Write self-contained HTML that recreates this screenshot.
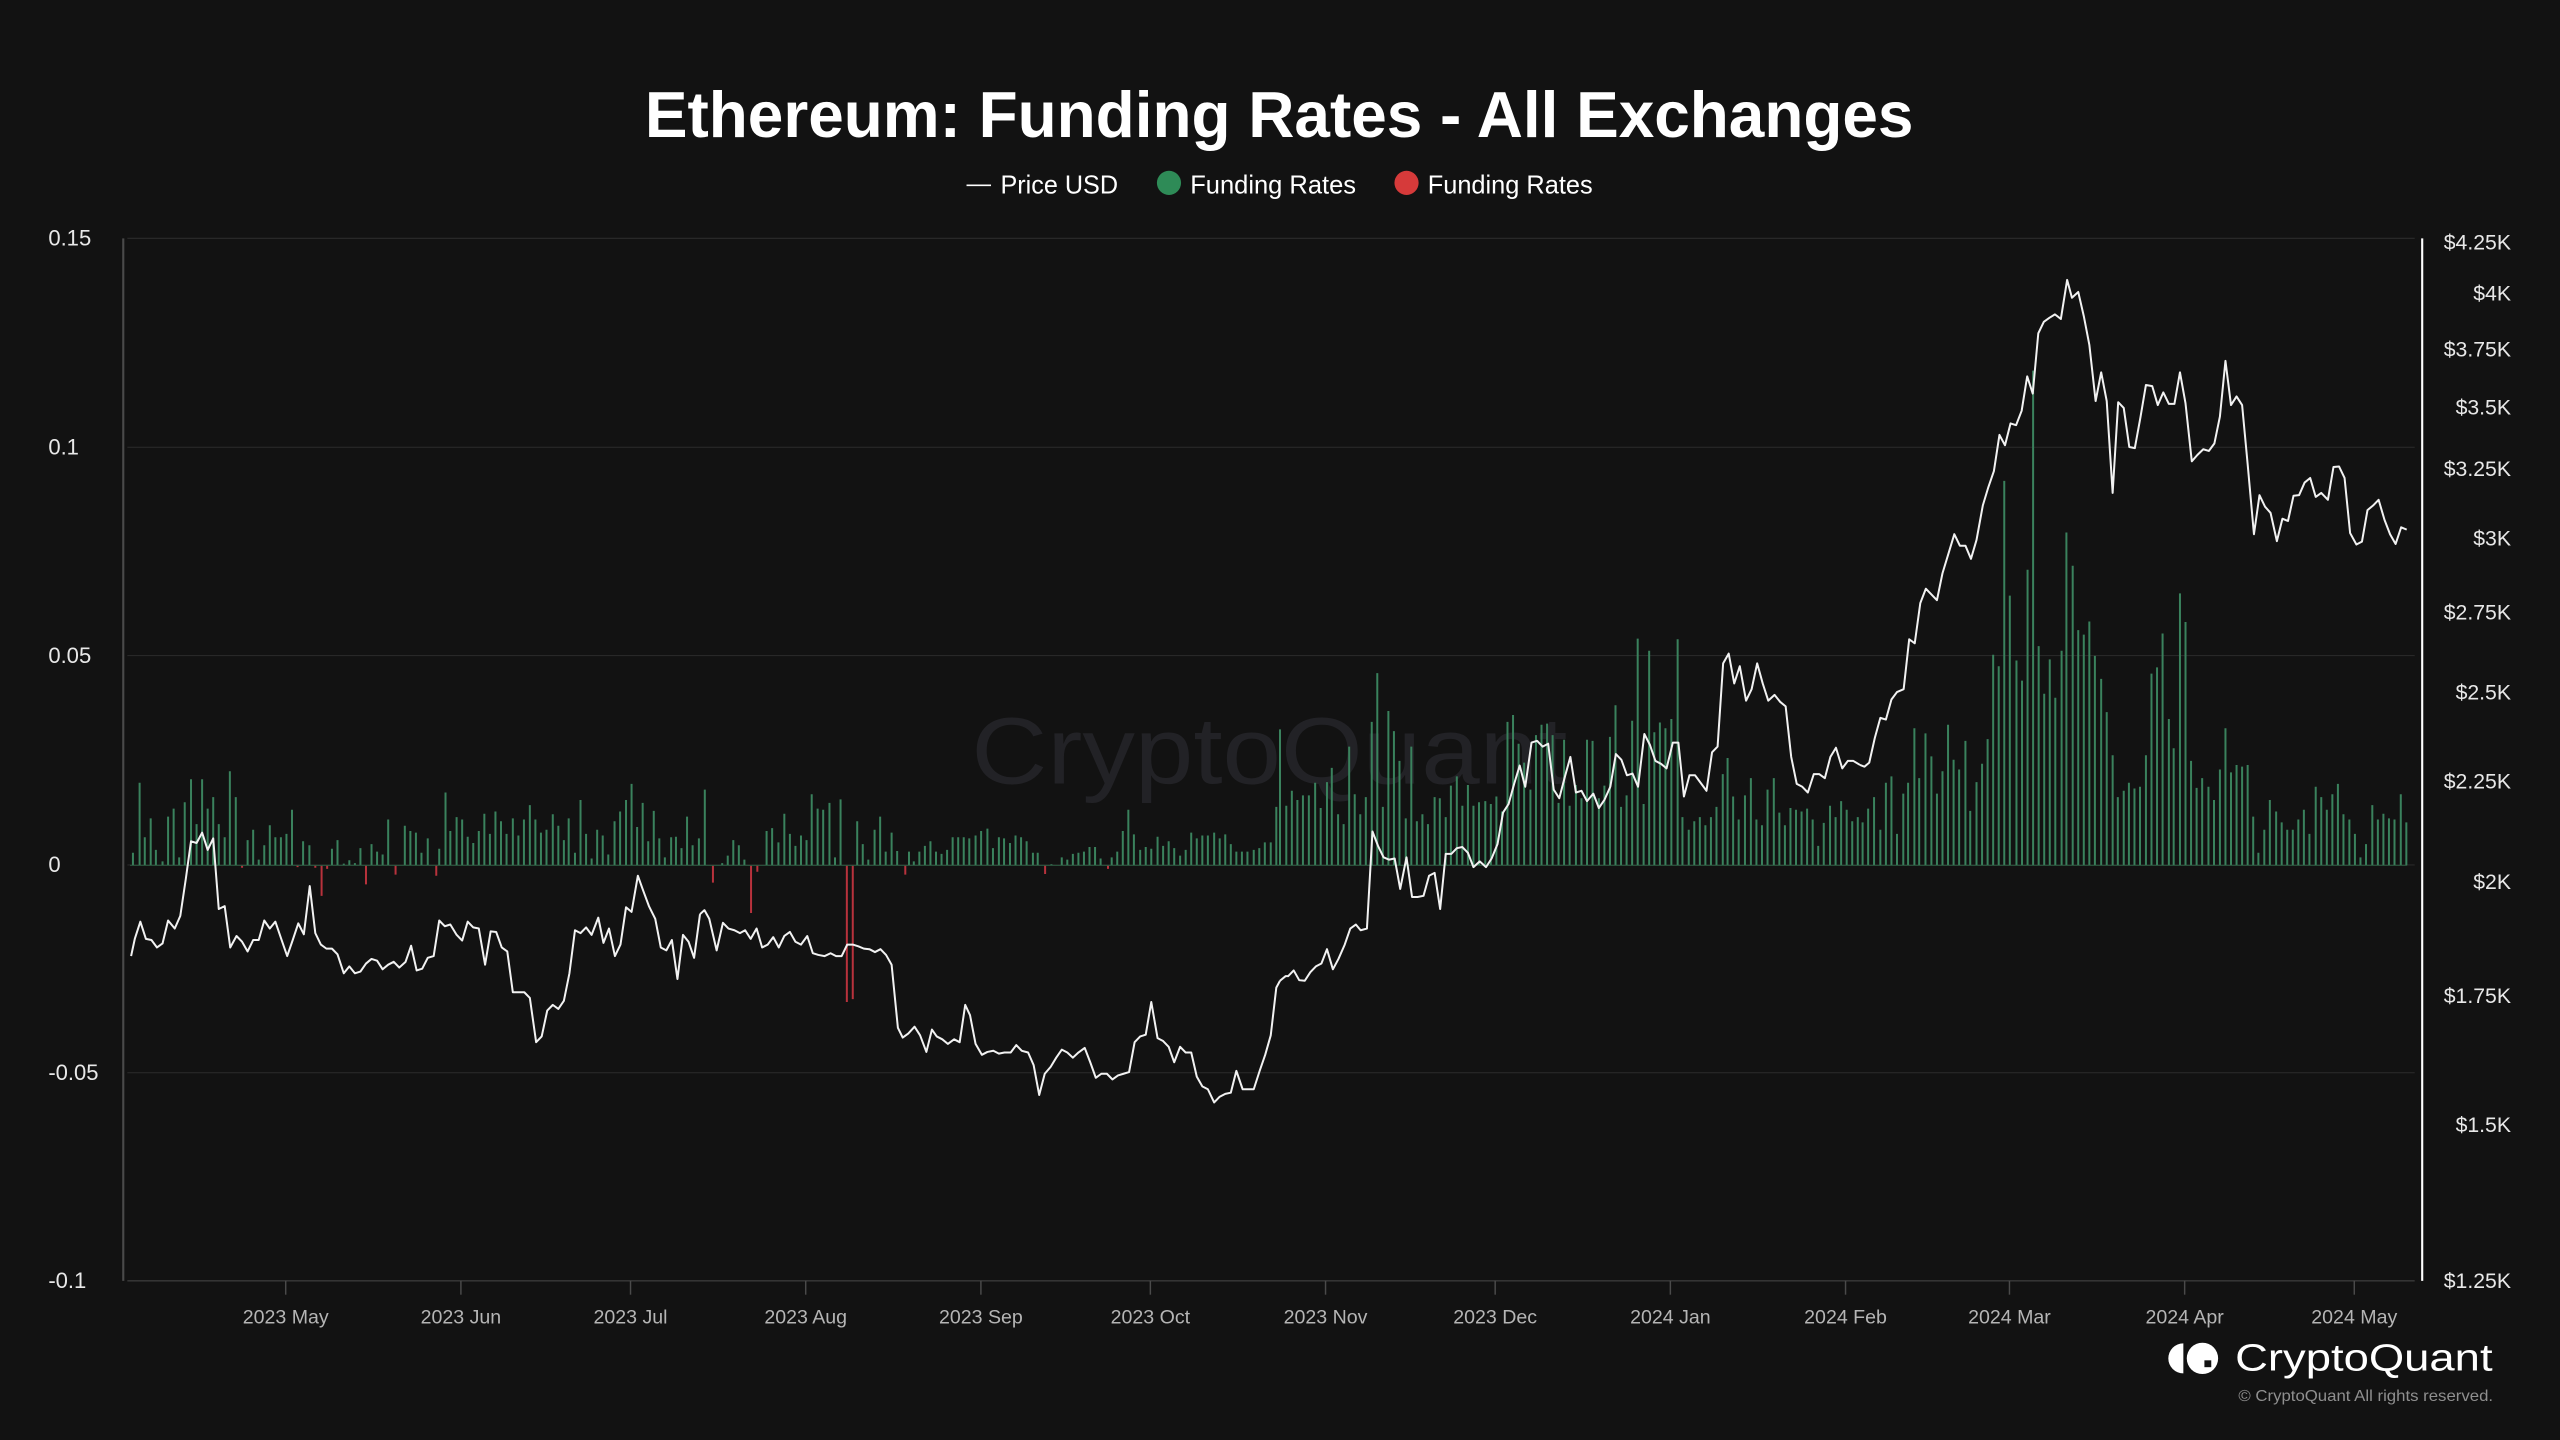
<!DOCTYPE html>
<html><head><meta charset="utf-8"><style>
html,body{margin:0;padding:0;background:#121212;overflow:hidden}
svg{display:block}
text{font-family:"Liberation Sans",Arial,sans-serif}
</style></head><body>
<svg width="2560" height="1440" xmlns="http://www.w3.org/2000/svg">
<rect width="2560" height="1440" fill="#121212"/>
<g transform="scale(1.63265)">
  <g stroke="#282828" stroke-width="0.7">
    <line x1="78" y1="146" x2="1479" y2="146"/>
    <line x1="78" y1="274" x2="1479" y2="274"/>
    <line x1="78" y1="401.5" x2="1479" y2="401.5"/>
    <line x1="78" y1="529.8" x2="1479" y2="529.8"/>
    <line x1="78" y1="657" x2="1479" y2="657"/>
  </g>
  <line x1="78" y1="784.5" x2="1479" y2="784.5" stroke="#3a3a3a" stroke-width="0.9"/>
  <text x="595" y="480" font-size="58" fill="#222226" textLength="365" lengthAdjust="spacingAndGlyphs">CryptoQuant</text>
</g>

<g transform="translate(120,230) scale(0.369898,0.573980)" fill="none">
<path vector-effect="non-scaling-stroke" stroke="#3a825d" stroke-width="2" d="M35 1107V1085M53 1107V963M67 1107V1058M83 1107V1025M97 1107V1080M115 1107V1100M130 1107V1022M145 1107V1008M160 1107V1093M175 1107V997M192 1107V957M207 1107V1035M222 1107V957M237 1107V1008M252 1107V988M267 1107V1035M283 1107V1058M297 1107V943M313 1107V988M345 1107V1063M360 1107V1045M375 1107V1097M390 1107V1072M405 1107V1037M420 1107V1058M435 1107V1058M450 1107V1052M465 1107V1010M495 1107V1065M512 1107V1072M573 1107V1078M588 1107V1063M605 1107V1104M620 1107V1098M635 1107V1103M650 1107V1077M680 1107V1070M695 1107V1083M710 1107V1088M725 1107V1027M770 1107V1038M785 1107V1047M800 1107V1050M815 1107V1085M832 1107V1060M863 1107V1078M880 1107V980M893 1107V1047M910 1107V1023M925 1107V1027M940 1107V1057M955 1107V1068M970 1107V1047M985 1107V1017M1000 1107V1052M1015 1107V1013M1030 1107V1030M1045 1107V1052M1062 1107V1025M1077 1107V1055M1092 1107V1027M1108 1107V1002M1123 1107V1027M1138 1107V1050M1153 1107V1045M1170 1107V1018M1185 1107V1038M1200 1107V1063M1213 1107V1025M1230 1107V1085M1245 1107V993M1260 1107V1052M1275 1107V1095M1290 1107V1045M1305 1107V1055M1320 1107V1088M1337 1107V1030M1352 1107V1013M1368 1107V993M1383 1107V965M1398 1107V1040M1413 1107V998M1428 1107V1065M1443 1107V1012M1458 1107V1060M1473 1107V1093M1490 1107V1058M1503 1107V1057M1518 1107V1077M1533 1107V1022M1548 1107V1072M1565 1107V1060"/>
<path vector-effect="non-scaling-stroke" stroke="#b8323c" stroke-width="2" d="M330 1107V1111M480 1107V1110M528 1107V1111M545 1107V1160M560 1107V1113M665 1107V1140M745 1107V1123M855 1107V1125"/>
</g>
<g transform="translate(700,230) scale(0.369898,0.573980)" fill="none">
<path vector-effect="non-scaling-stroke" stroke="#3a825d" stroke-width="2" d="M13 1107V975M60 1107V1103M75 1107V1090M90 1107V1063M105 1107V1072M120 1107V1097M180 1107V1047M195 1107V1042M212 1107V1067M228 1107V1017M243 1107V1052M258 1107V1073M273 1107V1055M288 1107V1063M302 1107V983M318 1107V1008M333 1107V1010M350 1107V998M365 1107V1093M380 1107V992M425 1107V1030M440 1107V1070M455 1107V1097M472 1107V1045M487 1107V1022M502 1107V1083M518 1107V1050M533 1107V1082M565 1107V1083M578 1107V1100M593 1107V1083M608 1107V1073M623 1107V1065M638 1107V1083M653 1107V1087M668 1107V1080M683 1107V1058M698 1107V1058M713 1107V1058M728 1107V1060M745 1107V1055M760 1107V1047M777 1107V1043M792 1107V1077M808 1107V1058M822 1107V1060M838 1107V1068M853 1107V1055M868 1107V1058M883 1107V1065M900 1107V1085M913 1107V1085M950 1107V1105M978 1107V1093M993 1107V1097M1008 1107V1087M1023 1107V1085M1038 1107V1083M1053 1107V1075M1068 1107V1075M1083 1107V1095M1113 1107V1093M1128 1107V1083M1143 1107V1047M1158 1107V1010M1173 1107V1053M1190 1107V1080M1205 1107V1075M1220 1107V1078M1237 1107V1057M1252 1107V1073M1267 1107V1065M1282 1107V1077M1298 1107V1090M1313 1107V1080M1328 1107V1050M1343 1107V1060M1358 1107V1055M1373 1107V1055M1390 1107V1050M1405 1107V1060M1420 1107V1053M1435 1107V1070M1450 1107V1083M1465 1107V1083M1480 1107V1083M1497 1107V1080M1512 1107V1077M1527 1107V1067M1543 1107V1067M1558 1107V1005"/>
<path vector-effect="non-scaling-stroke" stroke="#b8323c" stroke-width="2" d="M35 1107V1137M138 1107V1190M155 1107V1118M397 1107V1345M413 1107V1340M555 1107V1123M933 1107V1122M1103 1107V1113"/>
</g>
<g transform="translate(1280,230) scale(0.369898,0.573980)" fill="none">
<path vector-effect="non-scaling-stroke" stroke="#3a825d" stroke-width="2" d="M0 1107V870M17 1107V1003M32 1107V977M47 1107V993M62 1107V985M78 1107V985M95 1107V963M110 1107V1007M127 1107V962M140 1107V937M157 1107V1018M172 1107V1035M187 1107V900M202 1107V983M217 1107V1018M232 1107V988M248 1107V857M263 1107V772M278 1107V1005M293 1107V838M308 1107V873M323 1107V925M340 1107V1025M355 1107V900M370 1107V1030M385 1107V1018M400 1107V1035M418 1107V988M432 1107V990M448 1107V1023M462 1107V968M478 1107V952M493 1107V1003M508 1107V967M523 1107V1003M538 1107V997M555 1107V995M570 1107V1000M585 1107V987M600 1107V1013M615 1107V857M630 1107V845M645 1107V895M660 1107V928M677 1107V975M692 1107V880M707 1107V862M722 1107V860M737 1107V880M753 1107V998M768 1107V888M783 1107V1003M800 1107V967M815 1107V990M830 1107V888M845 1107V890M862 1107V990M877 1107V968M892 1107V883M907 1107V828M922 1107V1005M937 1107V985M952 1107V855M967 1107V712M983 1107V1000M998 1107V733M1012 1107V875M1027 1107V858M1042 1107V868M1058 1107V852M1075 1107V713M1088 1107V1023M1105 1107V1045M1120 1107V1030M1135 1107V1023M1150 1107V1037M1165 1107V1023M1180 1107V1005M1197 1107V948M1210 1107V920M1225 1107V987M1240 1107V1027M1257 1107V985M1273 1107V955M1288 1107V1027M1303 1107V1037M1318 1107V975M1335 1107V955M1350 1107V1015M1365 1107V1037M1380 1107V1007M1395 1107V1010M1410 1107V1013M1425 1107V1008M1440 1107V1027M1455 1107V1073M1470 1107V1033M1487 1107V1003M1502 1107V1023M1517 1107V995M1532 1107V1010M1547 1107V1030M1562 1107V1023"/>
</g>
<g transform="translate(1860,230) scale(0.369898,0.573980)" fill="none">
<path vector-effect="non-scaling-stroke" stroke="#3a825d" stroke-width="2" d="M7 1107V1032M22 1107V1008M38 1107V988M55 1107V1045M70 1107V963M85 1107V952M100 1107V1052M117 1107V982M130 1107V963M147 1107V868M160 1107V955M177 1107V877M193 1107V917M208 1107V982M223 1107V943M238 1107V862M253 1107V923M268 1107V940M285 1107V890M298 1107V1012M315 1107V962M330 1107V930M345 1107V887M360 1107V740M375 1107V760M390 1107V437M405 1107V637M423 1107V750M438 1107V785M453 1107V592M468 1107V245M483 1107V725M498 1107V808M513 1107V748M528 1107V815M545 1107V733M558 1107V527M575 1107V585M590 1107V697M605 1107V705M620 1107V682M635 1107V742M652 1107V782M667 1107V840M683 1107V915M697 1107V988M713 1107V977M727 1107V963M742 1107V973M757 1107V970M773 1107V915M788 1107V773M803 1107V762M818 1107V703M835 1107V852M848 1107V903M865 1107V633M880 1107V683M895 1107V925M910 1107V972M925 1107V955M942 1107V970M957 1107V993M973 1107V940M988 1107V868M1003 1107V945M1018 1107V932M1033 1107V935M1048 1107V932M1063 1107V1022M1077 1107V1085M1093 1107V1045M1108 1107V993M1125 1107V1013M1140 1107V1032M1155 1107V1045M1170 1107V1045M1185 1107V1027M1200 1107V1010M1215 1107V1052M1232 1107V970M1247 1107V988M1262 1107V1010M1277 1107V983M1292 1107V965M1307 1107V1018M1323 1107V1027M1338 1107V1052M1353 1107V1093M1368 1107V1070M1385 1107V1002M1400 1107V1027M1415 1107V1017M1430 1107V1025M1445 1107V1027M1462 1107V983M1477 1107V1032"/>
</g>

<line x1="130" y1="865.4" x2="2407" y2="865.4" stroke="#2d5a41" stroke-width="1"/>

<g fill="none" stroke="#f2f2f2" stroke-width="2" stroke-linejoin="round">
<polyline vector-effect="non-scaling-stroke" transform="translate(120,230) scale(0.369898,0.573980)" points="30,1265 40,1235 55,1205 70,1235 85,1237 100,1250 115,1243 130,1203 148,1217 163,1195 178,1130 192,1065 207,1068 222,1050 237,1080 252,1060 267,1183 283,1178 298,1250 315,1230 330,1240 345,1257 360,1237 375,1237 390,1203 405,1217 420,1205 437,1237 452,1265 467,1237 482,1208 497,1227 513,1143 528,1225 543,1245 558,1252 573,1252 588,1262 605,1295 620,1283 635,1295 650,1292 665,1278 680,1270 695,1273 710,1288 725,1280 740,1275 755,1285 772,1275 787,1247 802,1290 817,1287 832,1268 848,1265 863,1203 878,1213 893,1210 910,1228 925,1238 940,1205 955,1215 970,1217 987,1280 1002,1222 1017,1223 1032,1250 1047,1257 1062,1328 1077,1328 1093,1328 1108,1338 1125,1415 1140,1405 1155,1360 1170,1350 1185,1357 1200,1343 1215,1295 1230,1220 1245,1225 1260,1215 1275,1228 1293,1198 1307,1242 1322,1217 1338,1265 1353,1245 1368,1180 1383,1188 1400,1125 1415,1152 1430,1178 1447,1200 1462,1250 1477,1255 1492,1237 1507,1305 1522,1228 1537,1240 1552,1268 1568,1192"/>
<polyline vector-effect="non-scaling-stroke" transform="translate(700,230) scale(0.369898,0.573980)" points="0,1192 12,1185 25,1200 45,1255 62,1207 77,1217 93,1220 108,1225 122,1220 137,1235 153,1217 168,1250 183,1245 198,1232 213,1250 228,1230 243,1223 258,1240 273,1245 290,1230 305,1260 320,1263 337,1265 353,1260 368,1265 383,1265 398,1245 413,1245 428,1248 443,1252 458,1253 473,1258 488,1253 503,1263 518,1280 535,1390 548,1407 563,1400 580,1388 595,1403 612,1432 627,1393 640,1405 655,1410 670,1418 687,1410 702,1415 717,1350 730,1368 745,1418 762,1437 777,1432 793,1430 808,1435 823,1433 840,1433 855,1420 870,1430 887,1433 902,1455 917,1507 932,1470 948,1458 963,1442 978,1428 993,1433 1008,1442 1023,1433 1040,1425 1055,1450 1070,1477 1085,1470 1100,1470 1115,1480 1130,1473 1145,1470 1160,1467 1175,1415 1190,1405 1205,1402 1220,1345 1237,1408 1252,1413 1267,1423 1282,1450 1298,1423 1313,1433 1328,1433 1343,1475 1358,1492 1373,1497 1390,1520 1405,1510 1420,1505 1435,1503 1450,1465 1467,1497 1482,1497 1497,1497 1513,1465 1528,1437 1543,1403 1558,1320 1568,1308"/>
<polyline vector-effect="non-scaling-stroke" transform="translate(1280,230) scale(0.369898,0.573980)" points="0,1308 15,1300 22,1300 37,1290 52,1307 67,1308 82,1293 97,1283 112,1278 127,1253 143,1288 158,1270 175,1245 190,1217 205,1210 218,1220 235,1217 250,1048 265,1073 280,1093 295,1097 310,1095 325,1148 342,1093 357,1162 372,1162 388,1160 403,1125 418,1120 433,1183 448,1087 463,1087 478,1077 493,1075 508,1085 523,1110 540,1100 557,1110 572,1095 588,1070 603,1015 618,1000 633,965 648,933 663,970 680,893 695,890 710,900 725,895 740,975 755,990 770,953 785,918 800,980 815,977 830,995 847,982 862,1007 877,993 893,970 908,913 923,923 938,950 953,947 968,970 985,878 1000,897 1015,925 1030,930 1045,938 1062,893 1077,893 1092,987 1107,950 1122,950 1137,963 1153,977 1168,910 1183,900 1198,755 1213,738 1228,790 1243,760 1260,820 1275,800 1290,755 1305,790 1320,820 1337,810 1352,822 1367,830 1382,918 1397,965 1412,970 1427,980 1443,948 1458,948 1473,955 1488,918 1503,902 1520,938 1535,925 1550,925 1568,932"/>
<polyline vector-effect="non-scaling-stroke" transform="translate(1860,230) scale(0.369898,0.573980)" points="0,932 12,935 25,928 40,885 55,850 70,853 85,818 100,805 118,800 133,713 148,720 163,650 178,625 193,635 208,645 223,598 240,562 255,530 270,550 285,550 300,573 315,540 332,480 347,448 362,420 377,357 392,375 407,337 422,340 437,315 452,255 467,285 482,180 497,160 512,153 527,147 543,155 560,87 573,118 590,108 605,150 620,200 637,298 652,248 667,298 683,458 698,300 713,310 728,378 743,380 758,327 773,270 790,272 805,305 820,283 835,303 850,303 865,248 880,302 897,403 912,392 928,382 943,385 958,372 973,325 988,228 1003,305 1018,290 1033,305 1048,408 1065,530 1080,462 1095,482 1110,493 1127,542 1142,503 1157,507 1172,463 1187,462 1202,440 1217,432 1232,465 1247,458 1265,470 1280,413 1295,412 1310,432 1325,528 1342,548 1357,543 1372,488 1387,480 1402,470 1418,505 1433,530 1448,547 1463,518 1478,522"/>
</g>

<g transform="scale(1.63265)">
  <line x1="75.5" y1="146" x2="75.5" y2="784.5" stroke="#4a4a4a" stroke-width="1.3"/>
  <line x1="1483.6" y1="146" x2="1483.6" y2="784.5" stroke="#ffffff" stroke-width="1.3"/>
  <g stroke="#4a4a4a" stroke-width="0.9">
    <line x1="175" y1="784.5" x2="175" y2="793"/>
    <line x1="282.3" y1="784.5" x2="282.3" y2="793"/>
    <line x1="386.2" y1="784.5" x2="386.2" y2="793"/>
    <line x1="493.5" y1="784.5" x2="493.5" y2="793"/>
    <line x1="600.8" y1="784.5" x2="600.8" y2="793"/>
    <line x1="704.6" y1="784.5" x2="704.6" y2="793"/>
    <line x1="811.9" y1="784.5" x2="811.9" y2="793"/>
    <line x1="915.8" y1="784.5" x2="915.8" y2="793"/>
    <line x1="1023.1" y1="784.5" x2="1023.1" y2="793"/>
    <line x1="1130.4" y1="784.5" x2="1130.4" y2="793"/>
    <line x1="1230.8" y1="784.5" x2="1230.8" y2="793"/>
    <line x1="1338.1" y1="784.5" x2="1338.1" y2="793"/>
    <line x1="1442" y1="784.5" x2="1442" y2="793"/>
  </g>

  <text x="395" y="84" font-size="39.5" font-weight="bold" fill="#ffffff" textLength="777" lengthAdjust="spacingAndGlyphs">Ethereum: Funding Rates - All Exchanges</text>

  <line x1="592" y1="113.5" x2="607" y2="113.5" stroke="#ffffff" stroke-width="1"/>
  <text x="612.8" y="118.5" font-size="16" fill="#ffffff" textLength="72" lengthAdjust="spacingAndGlyphs">Price USD</text>
  <circle cx="716" cy="112" r="7.4" fill="#2e8b57"/>
  <text x="729" y="118.5" font-size="16" fill="#ffffff" textLength="101.6" lengthAdjust="spacingAndGlyphs">Funding Rates</text>
  <circle cx="861.5" cy="112" r="7.4" fill="#d63a3a"/>
  <text x="874.5" y="118.5" font-size="16" fill="#ffffff" textLength="101" lengthAdjust="spacingAndGlyphs">Funding Rates</text>

  <g font-size="13.5" fill="#e8e8e8">
    <text x="29.6" y="150.5">0.15</text>
    <text x="29.6" y="278.5">0.1</text>
    <text x="29.6" y="406">0.05</text>
    <text x="29.6" y="534">0</text>
    <text x="29.6" y="661.5">-0.05</text>
    <text x="29.6" y="789">-0.1</text>
  </g>

  <g font-size="13" fill="#e8e8e8" text-anchor="end">
    <text x="1538" y="152.8">$4.25K</text>
    <text x="1538" y="184">$4K</text>
    <text x="1538" y="218.3">$3.75K</text>
    <text x="1538" y="253.8">$3.5K</text>
    <text x="1538" y="291.7">$3.25K</text>
    <text x="1538" y="334">$3K</text>
    <text x="1538" y="379.3">$2.75K</text>
    <text x="1538" y="428.3">$2.5K</text>
    <text x="1538" y="483.1">$2.25K</text>
    <text x="1538" y="544.5">$2K</text>
    <text x="1538" y="614.4">$1.75K</text>
    <text x="1538" y="693.2">$1.5K</text>
    <text x="1538" y="788.9">$1.25K</text>
  </g>

  <g font-size="12" fill="#b5b5b5" text-anchor="middle">
    <text x="175" y="810.5">2023 May</text>
    <text x="282.3" y="810.5">2023 Jun</text>
    <text x="386.2" y="810.5">2023 Jul</text>
    <text x="493.5" y="810.5">2023 Aug</text>
    <text x="600.8" y="810.5">2023 Sep</text>
    <text x="704.6" y="810.5">2023 Oct</text>
    <text x="811.9" y="810.5">2023 Nov</text>
    <text x="915.8" y="810.5">2023 Dec</text>
    <text x="1023.1" y="810.5">2024 Jan</text>
    <text x="1130.4" y="810.5">2024 Feb</text>
    <text x="1230.8" y="810.5">2024 Mar</text>
    <text x="1338.1" y="810.5">2024 Apr</text>
    <text x="1442" y="810.5">2024 May</text>
  </g>

  <path d="M1337.3 822.8 A9.2 9.2 0 0 0 1337.3 841.2 Z" fill="#ffffff"/>
  <circle cx="1349" cy="832" r="9.6" fill="#ffffff"/>
  <rect x="1350.2" y="833.2" width="4.2" height="4.2" fill="#121212"/>
  <text x="1369" y="839.5" font-size="23" fill="#ffffff" textLength="157.7" lengthAdjust="spacingAndGlyphs">CryptoQuant</text>
  <text x="1371" y="858" font-size="9.5" fill="#8f8f8f" textLength="156" lengthAdjust="spacingAndGlyphs">© CryptoQuant All rights reserved.</text>
</g>
</svg>
</body></html>
